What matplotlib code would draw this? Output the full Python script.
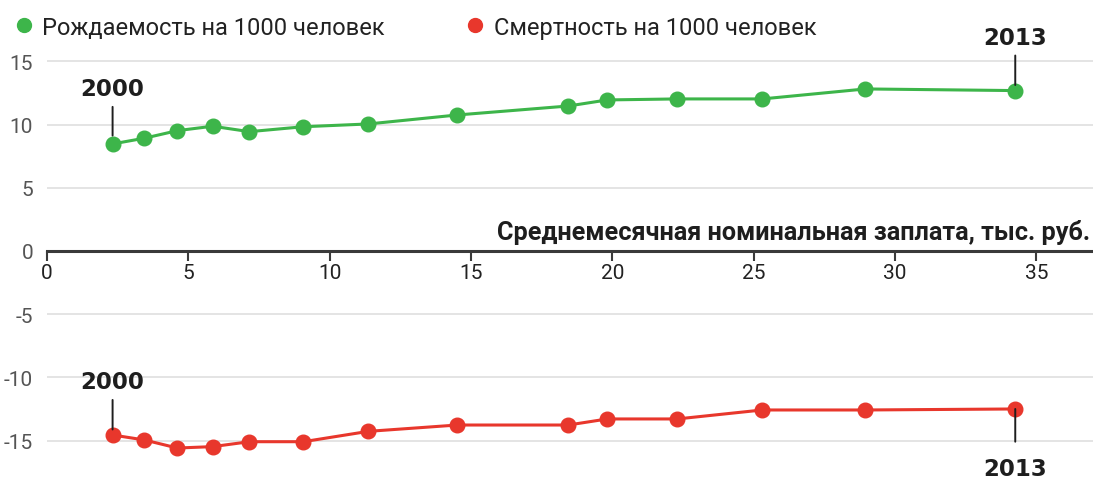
import matplotlib
matplotlib.use('Agg')
import matplotlib.pyplot as plt
from matplotlib.lines import Line2D

# avg nominal wage, thousand rub (x), 2000..2013
wage = [2.32, 3.44, 4.61, 5.86, 7.16, 9.07, 11.37, 14.51, 18.44, 19.82, 22.29, 25.30, 28.95, 34.25]
births = [8.47, 8.92, 9.52, 9.87, 9.44, 9.83, 10.05, 10.76, 11.47, 11.95, 12.03, 12.03, 12.82, 12.69]
deaths = [-14.56, -14.95, -15.59, -15.48, -15.09, -15.09, -14.27, -13.77, -13.77, -13.29, -13.29, -12.58, -12.58, -12.50]
years = ['2000', '2013']

green = '#3db54a'
red = '#e8372c'
narrow = ['Liberation Sans Narrow', 'Roboto', 'DejaVu Sans']

fig = plt.figure(figsize=(10.93, 4.81), dpi=100)
ax = fig.add_axes([47 / 1093, 0, 1 - 47 / 1093, 431 / 481])
ax.set_xlim(0, 37.0)
ax.set_ylim(-18.12, 15.98)

for s in ['top', 'right', 'left']:
    ax.spines[s].set_visible(False)
ax.spines['bottom'].set_position(('data', 0))
ax.spines['bottom'].set_color('#3a3a3a')
ax.spines['bottom'].set_linewidth(2.2)

ax.set_yticks([15, 10, 5, 0, -5, -10, -15])
ax.set_yticklabels(['15', '10', '5', '0', '-5', '-10', '-15'])
ax.set_xticks(range(0, 40, 5))
ax.tick_params(axis='y', length=0, pad=10, labelsize=15, labelcolor='#555555')
ax.tick_params(axis='x', direction='out', length=7, width=1.5, color='#3a3a3a',
               pad=2, labelsize=15, labelcolor='#222222')
for lab in ax.get_yticklabels() + ax.get_xticklabels():
    lab.set_family(narrow)

for yv in [15, 10, 5, -5, -10, -15]:
    ax.axhline(yv, color='#e2e2e2', lw=1.3, zorder=0)

ax.plot(wage, births, color=green, lw=2.2, marker='o', ms=10.5, zorder=3)
ax.plot(wage, deaths, color=red, lw=2.2, marker='o', ms=10.5, zorder=3)

ax.text(0.997, 0.55, 'Среднемесячная номинальная заплата, тыс. руб.',
        transform=ax.get_yaxis_transform(),
        ha='right', va='bottom', fontsize=18.2, fontweight='bold', color='#1e1e1e', family=narrow)

lbl = dict(ha='center', fontsize=16.5, fontweight='bold', color='#1e1e1e', textcoords='offset pixels')
line = dict(arrowstyle='-', color='#1e1e1e', lw=1.4)
ax.annotate(years[0], xy=(wage[0], births[0]), xytext=(0, 49), va='baseline',
            arrowprops=dict(line, shrinkA=3, shrinkB=6), **lbl)
ax.annotate(years[1], xy=(wage[-1], births[-1]), xytext=(0, 47), va='baseline',
            arrowprops=dict(line, shrinkA=3, shrinkB=4), **lbl)
ax.annotate(years[0], xy=(wage[0], deaths[0]), xytext=(0, 47), va='baseline',
            arrowprops=dict(line, shrinkA=3, shrinkB=4), **lbl)
ax.annotate(years[1], xy=(wage[-1], deaths[-1]), xytext=(0, -48), va='top',
            arrowprops=dict(line, shrinkA=9, shrinkB=0), **lbl)

handles = [Line2D([], [], marker='o', ls='none', color=green, ms=10),
           Line2D([], [], marker='o', ls='none', color=red, ms=10)]
fig.legend(handles, ['Рождаемость на 1000 человек', 'Смертность на 1000 человек'],
           loc='upper left', bbox_to_anchor=(0.0, 1.0), ncol=2, frameon=False,
           handlelength=0.6, handletextpad=0.5, columnspacing=3.5,
           prop={'family': narrow, 'size': 17}, labelcolor='#222222',
           borderaxespad=0.3)

fig.savefig('out.png', dpi=100, facecolor='white')
